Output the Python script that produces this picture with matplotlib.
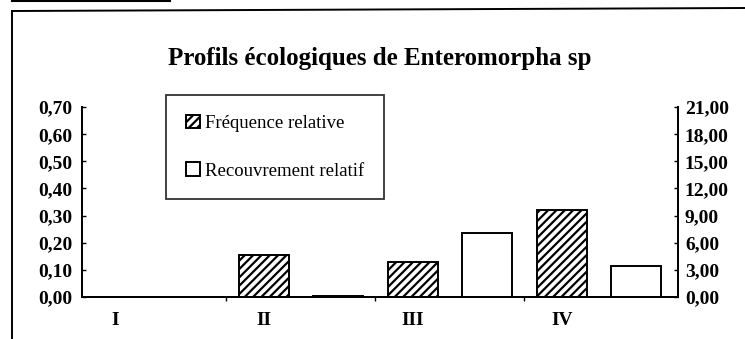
#!/usr/bin/env python3
"""Profils écologiques de Enteromorpha sp -- dual-axis bar chart."""
import matplotlib
matplotlib.use("Agg")
import matplotlib.pyplot as plt
import numpy as np
from matplotlib.lines import Line2D
from matplotlib.ticker import FuncFormatter, FixedLocator

plt.rcParams.update({
    "font.family": "Liberation Serif",
    "hatch.linewidth": 1.6,
})

# ── Data ──────────────────────────────────────────────────────────────
categories = ["I", "II", "III", "IV"]
frequence = [0.0, 0.155, 0.13, 0.32]     # left axis
recouvrement = [0.0, 0.1, 7.05, 3.45]    # right axis

fig = plt.figure(figsize=(7.45, 3.39), dpi=100)
ax = fig.add_axes([0.110, 0.124, 0.800, 0.560])
ax2 = ax.twinx()

x = np.arange(len(categories))
bw = 0.335
off = 0.25

b1 = ax.bar(x - off, frequence, bw, facecolor="white", edgecolor="black",
            hatch="////", linewidth=1.4, label="Fréquence relative")
b2 = ax2.bar(x + off, recouvrement, bw, facecolor="white", edgecolor="black",
             linewidth=1.4, label="Recouvrement relatif")

ax.set_xlim(-0.47, 3.53)
ax.set_ylim(0, 0.70)
ax2.set_ylim(0, 21)
ax.set_yticks(np.arange(0, 0.71, 0.1))
ax2.set_yticks(np.arange(0, 21.1, 3))

comma = lambda fmt: FuncFormatter(lambda v, p: (fmt % v).replace(".", ","))
ax.yaxis.set_major_formatter(comma("%.2f"))
ax2.yaxis.set_major_formatter(comma("%.2f"))

# category labels under the hatched bars, tick marks at group boundaries
ax.set_xticks(x - off)
ax.set_xticklabels(categories, fontsize=14, fontweight="bold")
ax.tick_params(axis="x", which="major", length=0, pad=11)
ax.xaxis.set_minor_locator(FixedLocator(x[:-1] + 0.5))
ax.tick_params(axis="x", which="minor", length=3, width=1, direction="out")

for a in (ax, ax2):
    a.spines["top"].set_visible(False)
    for s in ("left", "right", "bottom"):
        a.spines[s].set_linewidth(1.3)
    a.tick_params(axis="y", direction="in", length=3, width=1,
                  labelsize=14, pad=5)
    for lbl in a.get_yticklabels():
        lbl.set_fontweight("bold")
ax.tick_params(axis="y", pad=7)

# ── Title ─────────────────────────────────────────────────────────────
fig.text(380 / 745, 0.828, "Profils écologiques de Enteromorpha sp",
         ha="center", va="center", fontsize=18, fontweight="bold")

# ── Legend ────────────────────────────────────────────────────────────
leg = ax.legend(handles=[b1, b2], loc="upper left",
                bbox_to_anchor=(166 / 745, 1 - 95 / 339),
                bbox_transform=fig.transFigure,
                fontsize=13.5, frameon=True, fancybox=False,
                edgecolor="black", handlelength=0.75, handleheight=0.75,
                handletextpad=0.3, labelspacing=1.6, borderpad=1.05,
                borderaxespad=0)
leg.get_frame().set_linewidth(1.3)
leg.get_frame().set_facecolor("white")
leg.set_zorder(10)
ax.set_zorder(ax2.get_zorder() + 1)
ax.patch.set_visible(False)

# ── Outer frame (partial, cut by the page) ───────────────────────────
fig.add_artist(Line2D([12 / 745, 12 / 745], [0, 1 - 11 / 339],
                      color="black", linewidth=1.4))
fig.add_artist(Line2D([12 / 745, 1], [1 - 11 / 339, 1 - 8 / 339],
                      color="black", linewidth=1.4))
fig.add_artist(Line2D([12 / 745, 170 / 745], [1 - 1 / 339, 1 - 1 / 339],
                      color="black", linewidth=1.5))

fig.savefig("out.png", dpi=100)
